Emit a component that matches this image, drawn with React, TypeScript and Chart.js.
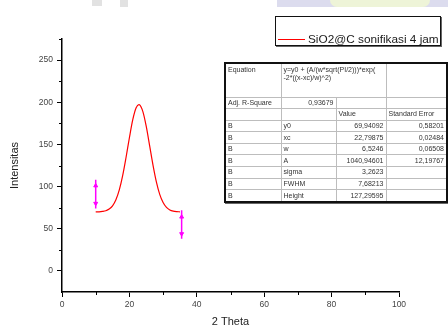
import React, { useEffect, useRef } from "react";
import { Chart, registerables } from "chart.js";

Chart.register(...registerables);

// ---- data ----
const thetaValues = [10, 11, 12, 13, 14, 15, 16, 17, 18, 19, 20, 21, 22, 22.8, 23, 24, 25, 26, 27, 28, 29, 30, 31, 32, 33, 34, 35];
const intensityValues = [70.0, 70.1, 70.5, 71.3, 73.3, 77.2, 84.4, 96.1, 113.0, 134.5, 157.9, 179.3, 193.4, 197.2, 197.0, 188.8, 171.3, 148.6, 125.5, 105.6, 90.8, 81.1, 75.3, 72.3, 70.9, 70.3, 70.1];

const markerX = [10, 35.5];
const markerTop = [108, 72];
const markerBottom = [74, 38];
const markerUp = [101, 64];
const markerDown = [80, 44];

const xTickValues = [0, 20, 40, 60, 80, 100];
const yTickValues = [0, 50, 100, 150, 200, 250];
const xMinorTicks = [10, 30, 50, 70, 90];
const yMinorTicks = [25, 75, 125, 175, 225, 275];

const seriesLabel = "SiO2@C sonifikasi 4 jam";
const xTitle = "2 Theta";
const yTitle = "Intensitas";

const equationText = "y=y0 + (A/(w*sqrt(PI/2)))*exp(\n-2*((x-xc)/w)^2)";
const adjRSquare = "0,93679";
const paramNames = ["y0", "xc", "w", "A", "sigma", "FWHM", "Height"];
const paramValues = ["69,94092", "22,79875", "6,5246", "1040,94601", "3,2623", "7,68213", "127,29595"];
const paramErrors = ["0,58201", "0,02484", "0,06508", "12,19767", "", "", ""];

const FONT = '"Liberation Sans", Arial, sans-serif';

const minorTickPlugin = {
  id: "minorTicks",
  afterDraw(chart: any) {
    const ctx = chart.ctx;
    const xs = chart.scales.x;
    const ys = chart.scales.y;
    ctx.save();
    ctx.strokeStyle = "#000";
    ctx.lineWidth = 1;
    ctx.beginPath();
    xMinorTicks.forEach((v) => {
      const px = Math.round(xs.getPixelForValue(v)) + 0.5;
      ctx.moveTo(px, xs.top);
      ctx.lineTo(px, xs.top + 3);
    });
    yMinorTicks.forEach((v) => {
      const py = Math.round(ys.getPixelForValue(v)) + 0.5;
      ctx.moveTo(ys.right, py);
      ctx.lineTo(ys.right - 3, py);
    });
    ctx.stroke();
    ctx.restore();
  },
};

function ChartCanvas() {
  const ref = useRef<HTMLCanvasElement | null>(null);
  useEffect(() => {
    if (!ref.current) return;
    const curve = thetaValues.map((x, i) => ({ x, y: intensityValues[i] }));
    const barSets = markerX.map((x, i) => ({
      data: [
        { x, y: markerTop[i] },
        { x, y: markerBottom[i] },
      ],
      showLine: true,
      borderColor: "#ff00ff",
      borderWidth: 1.5,
      pointRadius: 0,
    }));
    const arrowPts: any[] = [];
    const arrowRot: number[] = [];
    markerX.forEach((x, i) => {
      arrowPts.push({ x, y: markerUp[i] });
      arrowRot.push(0);
      arrowPts.push({ x, y: markerDown[i] });
      arrowRot.push(180);
    });
    const chart = new Chart(ref.current, {
      type: "scatter",
      data: {
        datasets: [
          {
            label: seriesLabel,
            data: curve,
            showLine: true,
            borderColor: "#ff0000",
            borderWidth: 1.2,
            pointRadius: 0,
            cubicInterpolationMode: "monotone",
          } as any,
          ...barSets,
          {
            data: arrowPts,
            pointStyle: "triangle",
            pointRotation: arrowRot,
            pointRadius: 2.3,
            backgroundColor: "#ff00ff",
            borderColor: "#ff00ff",
            borderWidth: 1,
          } as any,
        ],
      },
      options: {
        animation: false,
        responsive: true,
        maintainAspectRatio: false,
        layout: { padding: { top: 39, right: 49, left: 0, bottom: 0 } },
        plugins: { legend: { display: false }, tooltip: { enabled: false } },
        scales: {
          x: {
            type: "linear",
            min: 0,
            max: 100,
            afterBuildTicks: (s: any) => {
              s.ticks = xTickValues.map((v) => ({ value: v }));
            },
            ticks: { font: { size: 8.5, family: FONT }, color: "#444", padding: 3, maxRotation: 0 },
            grid: { drawOnChartArea: false, drawTicks: true, tickLength: 5, tickColor: "#000", tickWidth: 1 },
            border: { display: true, color: "#000", width: 1.5 },
            title: { display: true, text: xTitle, font: { size: 11, family: FONT }, color: "#222", padding: { top: 0, bottom: 0 } },
            afterFit: (s: any) => {
              s.height = 37;
            },
          },
          y: {
            type: "linear",
            min: -25,
            max: 275,
            afterBuildTicks: (s: any) => {
              s.ticks = yTickValues.map((v) => ({ value: v }));
            },
            ticks: { font: { size: 8.5, family: FONT }, color: "#444", padding: 4 },
            grid: { drawOnChartArea: false, drawTicks: true, tickLength: 5, tickColor: "#000", tickWidth: 1 },
            border: { display: true, color: "#000", width: 1.5 },
            title: { display: true, text: yTitle, font: { size: 11, family: FONT }, color: "#222", padding: { top: 8, bottom: 0 } },
            afterFit: (s: any) => {
              s.width = 62;
            },
          },
        },
      } as any,
      plugins: [minorTickPlugin],
    });
    return () => chart.destroy();
  }, []);
  return <canvas ref={ref} />;
}

const cell: React.CSSProperties = {
  border: "1px solid #bdbdbd",
  padding: "0 2px",
  whiteSpace: "nowrap",
  overflow: "hidden",
  lineHeight: "8px",
};

function FitTable() {
  return (
    <table
      style={{
        position: "absolute",
        left: 224,
        top: 62,
        width: 222,
        height: 141,
        borderCollapse: "collapse",
        tableLayout: "fixed",
        border: "2px solid #111",
        boxShadow: "1px 1px 0 #666",
        font: `7px ${FONT}`,
        color: "#333",
        background: "#fff",
      }}
    >
      <colgroup>
        <col style={{ width: 56 }} />
        <col style={{ width: 55 }} />
        <col style={{ width: 50 }} />
        <col style={{ width: 61 }} />
      </colgroup>
      <tbody>
        <tr style={{ height: 34 }}>
          <td style={{ ...cell, verticalAlign: "top", paddingTop: 2 }}>Equation</td>
          <td colSpan={2} style={{ ...cell, verticalAlign: "top", paddingTop: 2, whiteSpace: "pre" }}>
            {equationText}
          </td>
          <td style={cell}></td>
        </tr>
        <tr>
          <td style={cell}>Adj. R-Square</td>
          <td style={{ ...cell, textAlign: "right" }}>{adjRSquare}</td>
          <td style={cell}></td>
          <td style={cell}></td>
        </tr>
        <tr>
          <td style={cell}></td>
          <td style={cell}></td>
          <td style={cell}>Value</td>
          <td style={cell}>Standard Error</td>
        </tr>
        {paramNames.map((n, i) => (
          <tr key={n}>
            <td style={cell}>B</td>
            <td style={cell}>{n}</td>
            <td style={{ ...cell, textAlign: "right" }}>{paramValues[i]}</td>
            <td style={{ ...cell, textAlign: "right" }}>{paramErrors[i]}</td>
          </tr>
        ))}
      </tbody>
    </table>
  );
}

function LegendBox() {
  return (
    <div
      style={{
        position: "absolute",
        left: 275,
        top: 16,
        width: 164,
        height: 28,
        border: "1.5px solid #111",
        boxShadow: "1px 1px 0 #666",
        background: "#fff",
      }}
    >
      <div style={{ position: "absolute", left: 2, top: 22, width: 27, height: 0, borderTop: "1.2px solid #ff0000" }} />
      <div
        style={{
          position: "absolute",
          left: 32,
          top: 15,
          font: `11.8px ${FONT}`,
          color: "#1a1a1a",
          whiteSpace: "nowrap",
        }}
      >
        {seriesLabel}
      </div>
    </div>
  );
}

export default function App() {
  return (
    <div style={{ position: "fixed", left: 0, top: 0, width: 448, height: 329, background: "#fff", overflow: "hidden" }}>
      <div style={{ position: "absolute", left: 277, top: 0, width: 171, height: 7, background: "#dcdcee" }} />
      <div style={{ position: "absolute", left: 330, top: 0, width: 100, height: 7, background: "#eef4d8", borderRadius: "0 0 40px 40px" }} />
      <div style={{ position: "absolute", left: 92, top: 0, width: 10, height: 6, background: "#e2e2e2" }} />
      <div style={{ position: "absolute", left: 120, top: 0, width: 8, height: 7, background: "#e2e2e2" }} />
      <div style={{ position: "absolute", left: 0, top: 0, width: 448, height: 329 }}>
        <ChartCanvas />
      </div>
      <LegendBox />
      <FitTable />
    </div>
  );
}
